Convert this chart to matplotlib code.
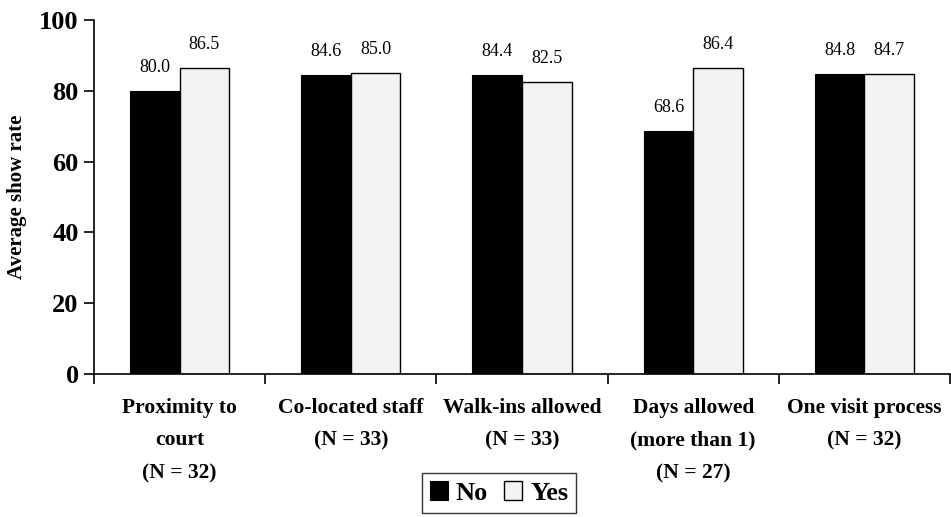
import matplotlib
matplotlib.use("Agg")
import matplotlib.pyplot as plt
import numpy as np

categories = ["Proximity to\ncourt\n(N = 32)", "Co-located staff\n(N = 33)",
              "Walk-ins allowed\n(N = 33)", "Days allowed\n(more than 1)\n(N = 27)",
              "One visit process\n(N = 32)"]
no_vals = [80.0, 84.6, 84.4, 68.6, 84.8]
yes_vals = [86.5, 85.0, 82.5, 86.4, 84.7]
yticks = [0, 20, 40, 60, 80, 100]

plt.rcParams['font.family'] = ['Liberation Serif', 'DejaVu Serif']

fig = plt.figure(figsize=(9.51, 5.17), dpi=100)
ax = fig.add_axes([94/951, 1-374/517, 856/951, 354/517])

x = np.arange(len(categories)) + 0.5
w = 0.29
b1 = ax.bar(x - w/2, no_vals, w, color='black', edgecolor='black', linewidth=0.8, label='No')
b2 = ax.bar(x + w/2, yes_vals, w, color='#f2f2f2', edgecolor='black', linewidth=1.0, label='Yes')

for xi, v in zip(x - w/2, no_vals):
    ax.text(xi, v + 4.2, f"{v:.1f}", ha='center', va='bottom', fontsize=13)
for xi, v in zip(x + w/2, yes_vals):
    ax.text(xi, v + 4.2, f"{v:.1f}", ha='center', va='bottom', fontsize=13)

ax.set_xlim(0, len(categories))
ax.set_ylim(0, 100)
ax.set_yticks(yticks)
ax.set_yticklabels([str(t) for t in yticks], fontsize=19, fontweight='bold')
ax.set_xticks(x)
ax.set_xticklabels(categories, fontsize=15.5, fontweight='bold', linespacing=1.85, va='top')
ax.set_xticks(np.arange(len(categories) + 1), minor=True)
ax.tick_params(axis='x', which='major', length=0, pad=17)
ax.tick_params(axis='x', which='minor', length=7, width=1.2, direction='out')
ax.tick_params(axis='y', length=7, width=1.2, direction='out', pad=4)
for s in ['top', 'right']:
    ax.spines[s].set_visible(False)
ax.spines['left'].set_linewidth(1.2)
ax.spines['bottom'].set_linewidth(1.2)

ax.set_ylabel("Average show rate", fontsize=15, fontweight='bold')
ax.yaxis.set_label_coords(-0.078, 0.5)

leg = fig.legend(handles=[b1, b2], labels=['No', 'Yes'], loc='center',
                 bbox_to_anchor=(499/951, 1-493/517), ncol=2, frameon=True,
                 fancybox=False, edgecolor='black', handlelength=0.7, handleheight=0.7,
                 handletextpad=0.3, columnspacing=0.6, borderpad=0.3,
                 prop={'weight': 'bold', 'size': 19, 'family': 'Liberation Serif'})
leg.get_frame().set_linewidth(1.0)

fig.savefig("out.png", dpi=100)
